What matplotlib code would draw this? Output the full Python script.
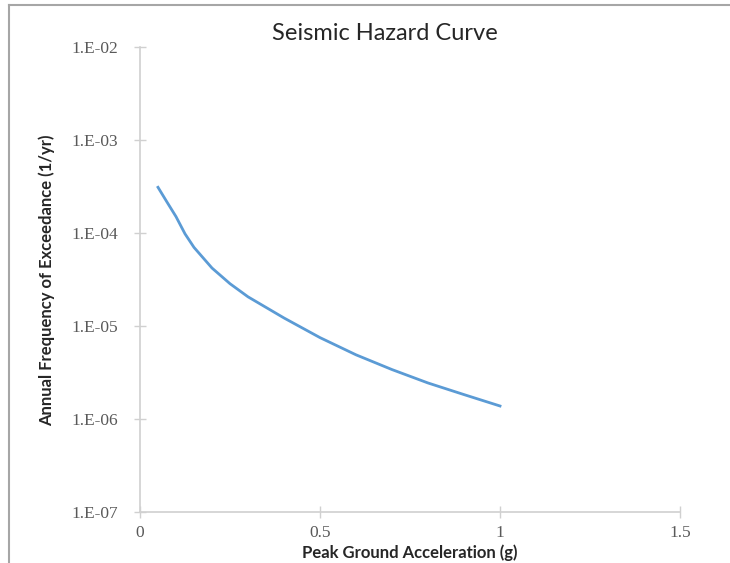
import matplotlib
matplotlib.use("Agg")
import matplotlib.pyplot as plt
from matplotlib.lines import Line2D
from matplotlib.ticker import FixedLocator, NullLocator

# data
pga = [0.05, 0.075, 0.1, 0.125, 0.15, 0.2, 0.25, 0.3, 0.4, 0.5, 0.6, 0.7, 0.8, 0.9, 1.0]
freq = [3.1e-4, 2.15e-4, 1.5e-4, 9.8e-5, 7.0e-5, 4.2e-5, 2.85e-5, 2.06e-5, 1.22e-5,
        7.5e-6, 4.9e-6, 3.4e-6, 2.44e-6, 1.83e-6, 1.38e-6]
x_ticks = [0, 0.5, 1, 1.5]
x_tick_labels = ["0", "0.5", "1", "1.5"]
y_ticks = [1e-7, 1e-6, 1e-5, 1e-4, 1e-3, 1e-2]
y_tick_labels = ["1.E-07", "1.E-06", "1.E-05", "1.E-04", "1.E-03", "1.E-02"]

plt.rcParams["font.family"] = ["Lato", "DejaVu Sans"]

fig = plt.figure(figsize=(7.30, 5.63), dpi=100)
ax = fig.add_axes([140 / 730, 1 - 512 / 563, 540 / 730, 465 / 563])

ax.plot(pga, freq, color="#5B9BD5", linewidth=2)

ax.set_yscale("log")
ax.set_xlim(0, 1.5)
ax.set_ylim(1e-7, 1e-2)
ax.xaxis.set_major_locator(FixedLocator(x_ticks))
ax.set_xticklabels(x_tick_labels)
ax.yaxis.set_major_locator(FixedLocator(y_ticks))
ax.yaxis.set_minor_locator(NullLocator())
ax.set_yticklabels(y_tick_labels)

for side in ["top", "right"]:
    ax.spines[side].set_visible(False)
for side in ["left", "bottom"]:
    ax.spines[side].set_color("#d0d0d0")
    ax.spines[side].set_linewidth(1.2)

ax.tick_params(axis="both", direction="inout", length=9, width=1,
               color="#d0d0d0", labelcolor="#595959", labelsize=12.5)
for lbl in ax.get_xticklabels() + ax.get_yticklabels():
    lbl.set_family(["Liberation Serif", "DejaVu Serif"])
ax.tick_params(axis="x", pad=5)
ax.tick_params(axis="y", pad=11)

fig.text(385 / 730, 1 - 33 / 563, "Seismic Hazard Curve", ha="center", va="center",
         fontsize=17, color="#262626")
fig.text(410 / 730, 1 - 553 / 563, "Peak Ground Acceleration (g)", ha="center",
         va="center", fontsize=12, fontweight="bold", color="#262626")
fig.text(47 / 730, 1 - 280 / 563, "Annual Frequency of Exceedance (1/yr)", ha="center",
         va="center", rotation=90, fontsize=12, fontweight="bold", color="#262626")

# chart frame (top and left edges visible in the crop)
fig.add_artist(Line2D([9 / 730, 1], [1 - 5 / 563, 1 - 5 / 563], color="#a6a6a6",
                      linewidth=1.5, transform=fig.transFigure))
fig.add_artist(Line2D([9 / 730, 9 / 730], [0, 1 - 5 / 563], color="#a6a6a6",
                      linewidth=1.5, transform=fig.transFigure))

fig.savefig("out.png", dpi=100)
